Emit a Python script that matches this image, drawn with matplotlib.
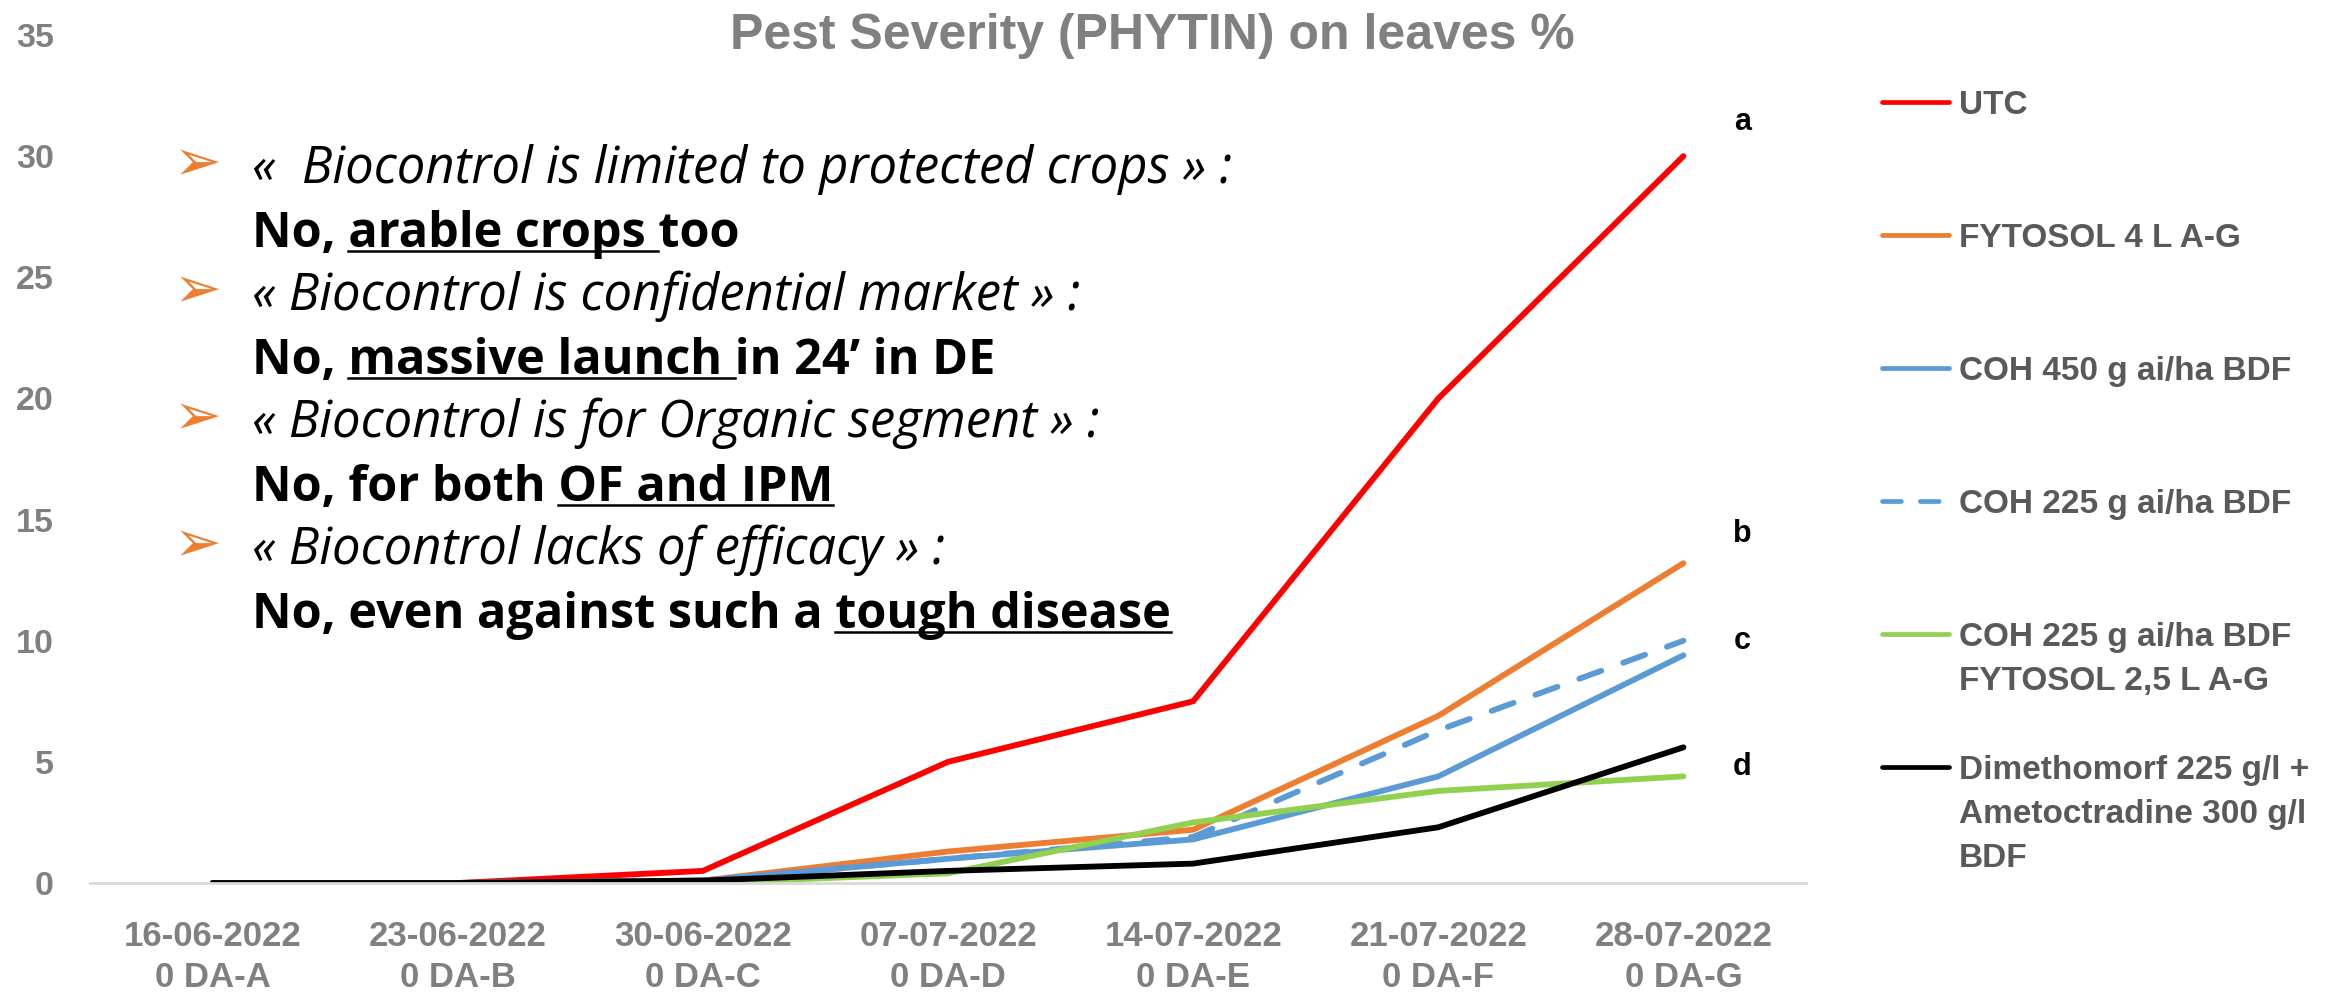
import matplotlib
matplotlib.use('Agg')
import matplotlib.pyplot as plt
from matplotlib.lines import Line2D

# data
dates = ['16-06-2022', '23-06-2022', '30-06-2022', '07-07-2022', '14-07-2022', '21-07-2022', '28-07-2022']
stages = ['0 DA-A', '0 DA-B', '0 DA-C', '0 DA-D', '0 DA-E', '0 DA-F', '0 DA-G']

utc = [0, 0, 0.5, 5.0, 7.5, 20.0, 30.0]
fytosol_4l = [0, 0, 0.1, 1.3, 2.2, 6.9, 13.2]
coh_450 = [0, 0, 0.1, 1.0, 1.8, 4.4, 9.4]
coh_225 = [0, 0, 0.1, 1.0, 1.9, 6.3, 10.0]
coh_225_fyto = [0, 0, 0, 0.4, 2.5, 3.8, 4.4]
dimethomorf = [0, 0, 0.1, 0.5, 0.8, 2.3, 5.6]

labels = ['UTC', 'FYTOSOL 4 L A-G', 'COH 450 g ai/ha BDF', 'COH 225 g ai/ha BDF',
          'COH 225 g ai/ha BDF\nFYTOSOL 2,5 L A-G',
          'Dimethomorf 225 g/l +\nAmetoctradine 300 g/l\nBDF']
series = [utc, fytosol_4l, coh_450, coh_225, coh_225_fyto, dimethomorf]
colors = ['#FF0000', '#ED7D31', '#5B9BD5', '#5B9BD5', '#92D050', '#000000']
styles = ['-', '-', '-', (0, (4, 4)), '-', '-']

sig_letters = ['a', 'b', 'c', 'd']
sig_y = [31.4, 14.4, 10.0, 4.8]

quotes = ['«  Biocontrol is limited to protected crops » :',
          '« Biocontrol is confidential market » :',
          '« Biocontrol is for Organic segment » :',
          '« Biocontrol lacks of efficacy » :']
answers = [('No, ', 'arable crops ', 'too'),
           ('No, ', 'massive launch ', 'in 24’ in DE'),
           ('No, for both ', 'OF and IPM', ''),
           ('No, even against such a ', 'tough disease', '')]

W, H = 2346, 993
GRAY = '#808080'
fig = plt.figure(figsize=(W / 100, H / 100), dpi=100)
plt.rcParams['font.family'] = ['Liberation Sans', 'DejaVu Sans']

def fx(px):
    return px / W

def fy(py):
    return 1 - py / H

ax = fig.add_axes([fx(90), fy(883), fx(1806) - fx(90), fy(35) - fy(883)])

x = list(range(len(dates)))
for vals, col, ls in zip(series, colors, styles):
    ax.plot(x, vals, color=col, lw=4.2, ls=ls, solid_capstyle='round',
            dash_capstyle='round', solid_joinstyle='miter')

for let, yv in zip(sig_letters, sig_y):
    ax.text(6.24, yv, let, fontsize=22, fontweight='bold', ha='center', va='center')

ax.set_xlim(-0.5, 6.5)
ax.set_ylim(0, 35)
ax.set_yticks(range(0, 36, 5))
ax.set_xticks(x)
ax.set_xticklabels([d + '\n' + s for d, s in zip(dates, stages)], linespacing=1.3)
ax.tick_params(axis='both', length=0, labelsize=25, labelcolor=GRAY)
ax.tick_params(axis='y', pad=26, labelsize=24.5)
ax.tick_params(axis='x', pad=27)
for lab in ax.get_xticklabels() + ax.get_yticklabels():
    lab.set_fontweight('bold')
for side in ['top', 'right', 'left']:
    ax.spines[side].set_visible(False)
ax.spines['bottom'].set_color('#D9D9D9')
ax.spines['bottom'].set_linewidth(2)

fig.text(fx(1152), fy(49), 'Pest Severity (PHYTIN) on leaves %', fontsize=36,
         fontweight='bold', color=GRAY, ha='center', va='baseline')

# legend, drawn by hand so the key sits on the first line of each label
leg_y = 102
for lab, col, ls in zip(labels, colors, styles):
    fig.add_artist(Line2D([fx(1882), fx(1949)], [fy(leg_y), fy(leg_y)], color=col,
                          lw=3.4, ls=ls, solid_capstyle='round', dash_capstyle='round'))
    for i, part in enumerate(lab.split('\n')):
        fig.text(fx(1959), fy(leg_y + 12 + i * 44), part, fontsize=24, fontweight='bold',
                 color='#595959', va='baseline')
    leg_y += 133

# text block
renderer = fig.canvas.get_renderer()
TXT_FONT = ['Open Sans', 'DejaVu Sans']

def width(s, **kw):
    t = fig.text(0, 0, s + '|', **kw)
    w1 = t.get_window_extent(renderer).width
    t.set_text('|')
    w2 = t.get_window_extent(renderer).width
    t.remove()
    return w1 - w2

base = 183
for q, (pre, und, post) in zip(quotes, answers):
    fig.text(fx(198), fy(base - 18), '➢', fontsize=41, color='#ED7D31',
             family='DejaVu Sans', ha='center', va='center')
    fig.text(fx(252), fy(base), q, fontsize=36.5, style='italic', family=TXT_FONT,
             va='baseline')
    kw = dict(fontsize=35, fontweight='bold', family=TXT_FONT)
    fig.text(fx(252), fy(base + 64), pre + und + post, va='baseline', **kw)
    x0 = 252 + width(pre, **kw)
    x1 = x0 + width(und, **kw)
    fig.add_artist(Line2D([fx(x0), fx(x1)], [fy(base + 68), fy(base + 68)],
                          color='black', lw=1.8))
    base += 127

fig.savefig('out.png', dpi=100)
